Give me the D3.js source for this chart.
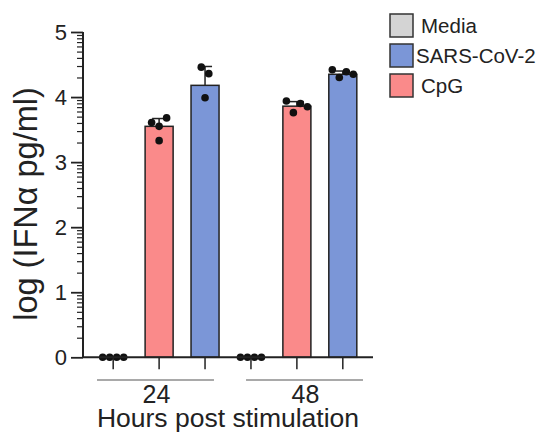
<!DOCTYPE html>
<html>
<head>
<meta charset="utf-8">
<script src="https://cdn.jsdelivr.net/npm/d3@7"></script>
<style>
body { margin: 0; background: #fff; }
text { font-family: Arial, "Liberation Sans", sans-serif; fill: #222; }
</style>
</head>
<body>
<script>
// groups on the x axis and treatments within a group
var timepoints = ["24", "48"];
var treatments = ["Media", "CpG", "SARS-CoV-2"];
var legendOrder = ["Media", "SARS-CoV-2", "CpG"];
var colors = {"Media": "#d4d4d4", "SARS-CoV-2": "#7b96d7", "CpG": "#fa8a8a"};

// bar heights (log IFNa pg/ml) per timepoint, in treatments order
var means24 = [0, 3.55, 4.18];
var means48 = [0, 3.86, 4.35];
// upper SD ends
var errTop24 = [0, 3.67, 4.47];
var errTop48 = [0, 3.93, 4.40];
// individual replicates (left to right as plotted)
var points24 = [[0, 0, 0, 0], [3.61, 3.55, 3.68, 3.33], [4.46, 3.99, 4.36]];
var points48 = [[0, 0, 0, 0], [3.94, 3.76, 3.90, 3.85], [4.42, 4.30, 4.39, 4.35]];

var yTicks = [0, 1, 2, 3, 4, 5];

var width = 544, height = 434;
var svg = d3.select("body").append("svg")
    .attr("width", width)
    .attr("height", height);

var x0 = 83, x1 = 373;
var y = d3.scaleLinear().domain([0, 5]).range([357.3, 32]);

// one band per bar, groups stacked side by side
var keys = [];
timepoints.forEach(function(t) {
  treatments.forEach(function(tr) { keys.push(t + "|" + tr); });
});
var x = d3.scaleBand().domain(keys).range([90, 366]).paddingInner(0.39).paddingOuter(0.2);
// group brackets under the axis
var xg = d3.scaleBand().domain(timepoints).range([x0, 377]).paddingInner(0.215).paddingOuter(0.094);

var rows = [];
var allMeans = {"24": means24, "48": means48};
var allErr = {"24": errTop24, "48": errTop48};
var allPts = {"24": points24, "48": points48};
timepoints.forEach(function(t) {
  treatments.forEach(function(tr, i) {
    rows.push({key: t + "|" + tr, time: t, treat: tr, mean: allMeans[t][i], err: allErr[t][i], pts: allPts[t][i]});
  });
});

// bars
svg.selectAll(".bar")
  .data(rows)
  .enter().append("rect")
  .attr("class", "bar")
  .attr("x", function(d) { return x(d.key); })
  .attr("width", x.bandwidth())
  .attr("y", function(d) { return y(d.mean); })
  .attr("height", function(d) { return y(0) - y(d.mean); })
  .attr("fill", function(d) { return colors[d.treat]; })
  .attr("stroke", "#222")
  .attr("stroke-width", 1.5);

// error bars (upper only)
var eb = svg.selectAll(".err")
  .data(rows.filter(function(d) { return d.err > d.mean; }))
  .enter().append("g")
  .attr("class", "err")
  .attr("stroke", "#222")
  .attr("stroke-width", 1.5);
eb.append("line")
  .attr("x1", function(d) { return x(d.key) + x.bandwidth() / 2; })
  .attr("x2", function(d) { return x(d.key) + x.bandwidth() / 2; })
  .attr("y1", function(d) { return y(d.mean); })
  .attr("y2", function(d) { return y(d.err); });
eb.append("line")
  .attr("x1", function(d) { return x(d.key) + x.bandwidth() / 2 - 7; })
  .attr("x2", function(d) { return x(d.key) + x.bandwidth() / 2 + 7; })
  .attr("y1", function(d) { return y(d.err); })
  .attr("y2", function(d) { return y(d.err); });

// scatter dots: points close in y form a row, rows are centred on the bar
var r = 3.8;
function spread(vals) {
  var order = vals.map(function(v, i) { return i; })
    .sort(function(a, b) { return vals[b] - vals[a]; });
  var clusters = [], cur = [];
  order.forEach(function(i) {
    if (cur.length && Math.abs(y(vals[cur[cur.length - 1]]) - y(vals[i])) > 2 * r) {
      clusters.push(cur); cur = [];
    }
    cur.push(i);
  });
  if (cur.length) clusters.push(cur);
  var out = new Array(vals.length);
  clusters.forEach(function(c) {
    c.sort(function(a, b) { return a - b; });
    var gap = c.length > 3 ? 7 : 7.5;
    c.forEach(function(i, j) { out[i] = (j - (c.length - 1) / 2) * gap; });
  });
  return out;
}

rows.forEach(function(d) {
  var offs = spread(d.pts);
  var cx = x(d.key) + x.bandwidth() / 2;
  svg.selectAll(null)
    .data(d.pts)
    .enter().append("circle")
    .attr("cx", function(v, i) { return cx + offs[i]; })
    .attr("cy", function(v) { return y(v); })
    .attr("r", r)
    .attr("fill", "#111");
});

// y axis with log-style minor ticks
var minor = [];
yTicks.slice(0, -1).forEach(function(t) {
  for (var k = 2; k <= 9; k++) minor.push(t + Math.log10(k));
});
svg.append("g")
  .attr("transform", "translate(" + x0 + ",0)")
  .call(d3.axisLeft(y).tickValues(minor).tickSize(6).tickFormat(""))
  .call(function(g) { g.select(".domain").remove(); })
  .selectAll("line").attr("stroke", "#222").attr("stroke-width", 1.2);

var yAxis = svg.append("g")
  .attr("transform", "translate(" + x0 + ",0)")
  .call(d3.axisLeft(y).tickValues(yTicks).tickSize(12).tickPadding(4).tickFormat(d3.format("d")));
yAxis.select(".domain").attr("stroke", "#222").attr("stroke-width", 2).attr("d", "M0," + y(0) + "V" + y(5));
yAxis.selectAll(".tick line").attr("stroke", "#222").attr("stroke-width", 1.8);
yAxis.selectAll(".tick text")
  .style("font-size", "22px")
  .attr("fill", "#222")
  .style("font-family", "Arial, 'Liberation Sans', sans-serif");

// x axis baseline and ticks
svg.append("line")
  .attr("x1", x0).attr("x2", x1)
  .attr("y1", y(0)).attr("y2", y(0))
  .attr("stroke", "#222").attr("stroke-width", 2);
svg.selectAll(".xtick")
  .data(keys)
  .enter().append("line")
  .attr("class", "xtick")
  .attr("x1", function(k) { return x(k) + x.bandwidth() / 2; })
  .attr("x2", function(k) { return x(k) + x.bandwidth() / 2; })
  .attr("y1", y(0))
  .attr("y2", y(0) + 12)
  .attr("stroke", "#222").attr("stroke-width", 1.5);

// group brackets
timepoints.forEach(function(t) {
  var a = xg(t), b = xg(t) + xg.bandwidth();
  svg.append("line")
    .attr("x1", a).attr("x2", b)
    .attr("y1", 380).attr("y2", 380)
    .attr("stroke", "#555").attr("stroke-width", 1.2);
  svg.append("text")
    .attr("x", (a + b) / 2 + 1)
    .attr("y", 403)
    .attr("text-anchor", "middle")
    .style("font-size", "25px")
    .text(t);
});

svg.append("text")
  .attr("x", 228)
  .attr("y", 427)
  .attr("text-anchor", "middle")
  .style("font-size", "26.5px")
  .text("Hours post stimulation");

svg.append("text")
  .attr("transform", "translate(37,204) rotate(-90)")
  .attr("text-anchor", "middle")
  .style("font-size", "32.5px")
  .text("log (IFNα pg/ml)");

// legend
var leg = svg.selectAll(".leg")
  .data(legendOrder)
  .enter().append("g")
  .attr("class", "leg")
  .attr("transform", function(d, i) { return "translate(390," + (14 + i * 30) + ")"; });
leg.append("rect")
  .attr("width", 23).attr("height", 23)
  .attr("fill", function(d) { return colors[d]; })
  .attr("stroke", "#333").attr("stroke-width", 1.5);
leg.append("text")
  .attr("x", function(d) { return d === "SARS-CoV-2" ? 26 : 31; })
  .attr("y", 19)
  .style("font-size", "20.5px")
  .text(function(d) { return d; });
</script>
</body>
</html>
